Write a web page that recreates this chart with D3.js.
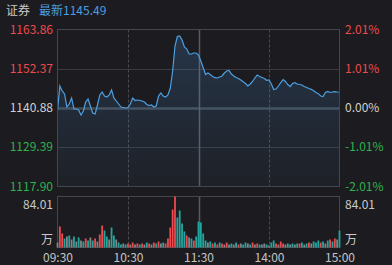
<!DOCTYPE html>
<html><head><meta charset="utf-8">
<script src="https://cdn.jsdelivr.net/npm/d3@7/dist/d3.min.js"></script>
<style>
html,body{margin:0;padding:0;background:#1c1c20;}
svg{display:block;font-family:"Noto Sans CJK SC","Noto Sans",sans-serif;}
</style></head><body>
<svg id="c" width="392" height="265"></svg>
<script>
// ---- data ----
const title = "证券";
const latestLabel = "最新";
const latest = 1145.49;
const base = 1140.88;
const priceTicks = [1163.86, 1152.37, 1140.88, 1129.39, 1117.90];
const pctTicks = ["2.01%", "1.01%", "0.00%", "-1.01%", "-2.01%"];
const timeLabels = ["09:30", "10:30", "11:30", "14:00", "15:00"];
const timeMinutes = [0, 60, 120, 180, 240];
const volMaxLabel = "84.01";
const volUnit = "万";
// price every 2 minutes (minute index = i*2)
const prices = [
1140.10,1147.32,1145.86,1144.98,1141.17,1142.05,1143.81,1140.59,1140.59,1140.29,
1138.83,1140.00,1142.64,1143.51,1141.47,1139.42,1139.12,1141.76,1144.69,1145.56,
1144.39,1144.10,1144.69,1146.15,1143.81,1142.93,1142.05,1141.17,1141.03,1140.88,
1141.03,1142.05,1143.81,1143.08,1143.22,1143.08,1142.93,1142.64,1141.90,1141.61,
1141.76,1141.17,1141.47,1144.39,1145.27,1144.39,1144.10,1144.69,1146.73,1151.71,
1159.03,1161.81,1162.00,1160.78,1158.73,1158.15,1156.69,1156.69,1156.98,1156.98,
1156.39,1154.64,1152.68,1150.69,1151.12,1150.69,1150.10,1149.75,1149.66,1149.95,
1150.25,1151.12,1151.71,1151.86,1150.83,1150.25,1149.81,1149.51,1149.08,1148.58,
1148.05,1147.32,1147.90,1148.64,1149.66,1150.54,1150.10,1149.81,1149.51,1148.99,
1149.08,1147.90,1146.29,1146.44,1147.32,1148.34,1149.22,1148.64,1147.76,1147.17,
1148.05,1148.29,1147.90,1147.76,1147.61,1147.17,1146.88,1146.59,1146.35,1145.91,
1145.42,1145.07,1144.39,1144.25,1145.42,1145.71,1145.42,1145.56,1145.65,1145.56,
1145.49];
// volume (万) every 2 minutes
const volumes = [
8.2,34.6,23.1,14.8,18.1,19.8,13.2,18.1,9.9,16.5,
11.5,9.9,14.8,11.5,16.5,11.5,14.8,9.9,21.4,36.2,
28.0,18.1,13.2,32.9,19.8,13.2,8.2,4.9,6.6,4.9,
6.6,4.9,8.2,4.9,6.6,4.9,6.6,4.9,8.2,6.6,
4.9,8.2,6.6,9.9,6.6,8.2,6.6,14.8,32.9,62.6,
84.01,49.4,60.9,39.5,26.4,19.8,16.5,14.8,11.5,18.1,
42.8,41.2,23.1,11.5,8.2,9.9,6.6,8.2,4.9,8.2,
6.6,4.9,8.2,4.9,6.6,4.9,8.2,4.9,6.6,4.9,
8.2,6.6,4.9,8.2,4.9,6.6,4.9,4.9,6.6,4.9,
3.3,8.2,11.5,6.6,4.9,9.9,6.6,4.9,6.6,4.9,
6.6,4.9,6.6,6.6,8.2,4.9,6.6,8.2,6.6,9.9,
8.2,11.5,8.2,9.9,6.6,11.5,13.2,9.9,14.8,13.2,
28.0];
// r = up, g = down, n = flat
const volColors = [
"n","r","r","g","n","g","n","g","n","g",
"n","g","r","g","n","g","r","n","r","r",
"g","g","n","g","g","n","g","g","n","g",
"r","n","r","n","r","g","r","n","g","r",
"n","r","g","r","n","g","r","r","r","r",
"r","g","g","g","g","r","n","g","r","g",
"g","g","g","g","n","g","r","g","r","g",
"r","n","r","n","g","n","g","r","n","g",
"g","n","g","r","n","r","g","n","n","g",
"n","g","g","r","n","r","r","n","g","n",
"g","n","g","r","g","n","g","r","n","g",
"g","g","r","g","n","g","r","g","r","n",
"g"];

// ---- drawing ----
const svg = d3.select("#c");
const L = 57.5, R = 339.5, T = 29.5, B = 186.5;
const VT = 196.5, VB = 247.5;
const colRed = "#ec4a4e", colGreen = "#2db24e", colTeal = "#22a7a0", colGray = "#858585";
const volCol = {r: colRed, g: colTeal, n: colGray};

const x = d3.scaleLinear().domain([0, 240]).range([L, R]);
const y = d3.scaleLinear().domain([priceTicks[4], priceTicks[0]]).range([B, T]);
const yv = d3.scaleLinear().domain([0, +volMaxLabel]).range([VB, VT]);

// header
const hdr = svg.append("text").attr("x", 6).attr("y", 15).attr("font-size", 12);
hdr.append("tspan").attr("fill", "#c9c9c9").text(title);
hdr.append("tspan").attr("dx", 9).attr("fill", "#4a9fe3").text(latestLabel + latest.toFixed(2));

// gradient
const defs = svg.append("defs");
const grad = defs.append("linearGradient").attr("id", "fillg").attr("x1", 0).attr("y1", 0).attr("x2", 0).attr("y2", 1);
grad.append("stop").attr("offset", "0%").attr("stop-color", "#4a8fd6").attr("stop-opacity", 0.22);
grad.append("stop").attr("offset", "100%").attr("stop-color", "#4a8fd6").attr("stop-opacity", 0.04);

// horizontal grid
priceTicks.forEach((v, i) => {
  if (i === 0 || i === 4) return;
  svg.append("line").attr("x1", L).attr("x2", R).attr("y1", Math.round(y(v)) + 0.5).attr("y2", Math.round(y(v)) + 0.5)
    .attr("stroke", i === 2 ? "#454a52" : "#3a3a3f").attr("stroke-width", i === 2 ? 2.5 : 1);
});
// vertical grid in both panels
function vgrid(top, bot) {
  timeMinutes.forEach((m, i) => {
    if (i === 0 || i === 4) return;
    svg.append("line").attr("x1", Math.round(x(m)) + 0.5).attr("x2", Math.round(x(m)) + 0.5)
      .attr("y1", top).attr("y2", bot)
      .attr("stroke", i === 2 ? "#5a5a60" : "#4a4a50")
      .attr("stroke-width", i === 2 ? 1.5 : 1)
      .attr("stroke-dasharray", i === 2 ? null : "3,2");
  });
}
vgrid(T, B);
vgrid(VT, VB);

// area + line
const pts = prices.map((p, i) => [i * 2, p]);
svg.append("path").datum(pts)
  .attr("d", d3.area().x(d => x(d[0])).y0(B).y1(d => y(d[1])))
  .attr("fill", "url(#fillg)");
svg.append("path").datum(pts)
  .attr("d", d3.line().x(d => x(d[0])).y(d => y(d[1])))
  .attr("fill", "none").attr("stroke", "#4c9fe0").attr("stroke-width", 1.2);

// borders
svg.append("rect").attr("x", L).attr("y", T).attr("width", R - L).attr("height", B - T)
  .attr("fill", "none").attr("stroke", "#45454b");
svg.append("rect").attr("x", L).attr("y", VT).attr("width", R - L).attr("height", VB - VT)
  .attr("fill", "none").attr("stroke", "#45454b");

// volume bars
svg.append("g").selectAll("rect").data(volumes).join("rect")
  .attr("x", (d, i) => x(i * 2) - 0.9)
  .attr("width", 1.8)
  .attr("y", d => yv(d))
  .attr("height", d => VB - yv(d))
  .attr("fill", (d, i) => volCol[volColors[i]]);

// price / percent labels
const lblCol = [colRed, colRed, "#d0d0d0", colGreen, colGreen];
priceTicks.forEach((v, i) => {
  svg.append("text").attr("x", 53).attr("y", y(v)).attr("dy", "0.35em")
    .attr("text-anchor", "end").attr("font-size", 12).attr("fill", lblCol[i]).text(v.toFixed(2));
  svg.append("text").attr("x", 345).attr("y", y(v)).attr("dy", "0.35em")
    .attr("text-anchor", "start").attr("font-size", 12).attr("fill", lblCol[i]).text(pctTicks[i]);
});

// volume labels
[[53, "end"], [345, "start"]].forEach(([xx, anc]) => {
  svg.append("text").attr("x", xx).attr("y", 205).attr("dy", "0.35em").attr("text-anchor", anc)
    .attr("font-size", 12).attr("fill", "#c9c9c9").text(volMaxLabel);
  svg.append("text").attr("x", xx).attr("y", 240).attr("dy", "0.35em").attr("text-anchor", anc)
    .attr("font-size", 12).attr("fill", "#c9c9c9").text(volUnit);
});

// time axis
const xa = d3.axisBottom(x).tickValues(timeMinutes).tickFormat((d, i) => timeLabels[i]).tickSize(0).tickPadding(0);
const g = svg.append("g").attr("transform", "translate(0,253)").call(xa);
g.select(".domain").remove();
g.selectAll("text").attr("font-size", 12).attr("fill", "#c4c4c4")
  .attr("font-family", '"Noto Sans CJK SC","Noto Sans",sans-serif');
</script>
</body></html>
